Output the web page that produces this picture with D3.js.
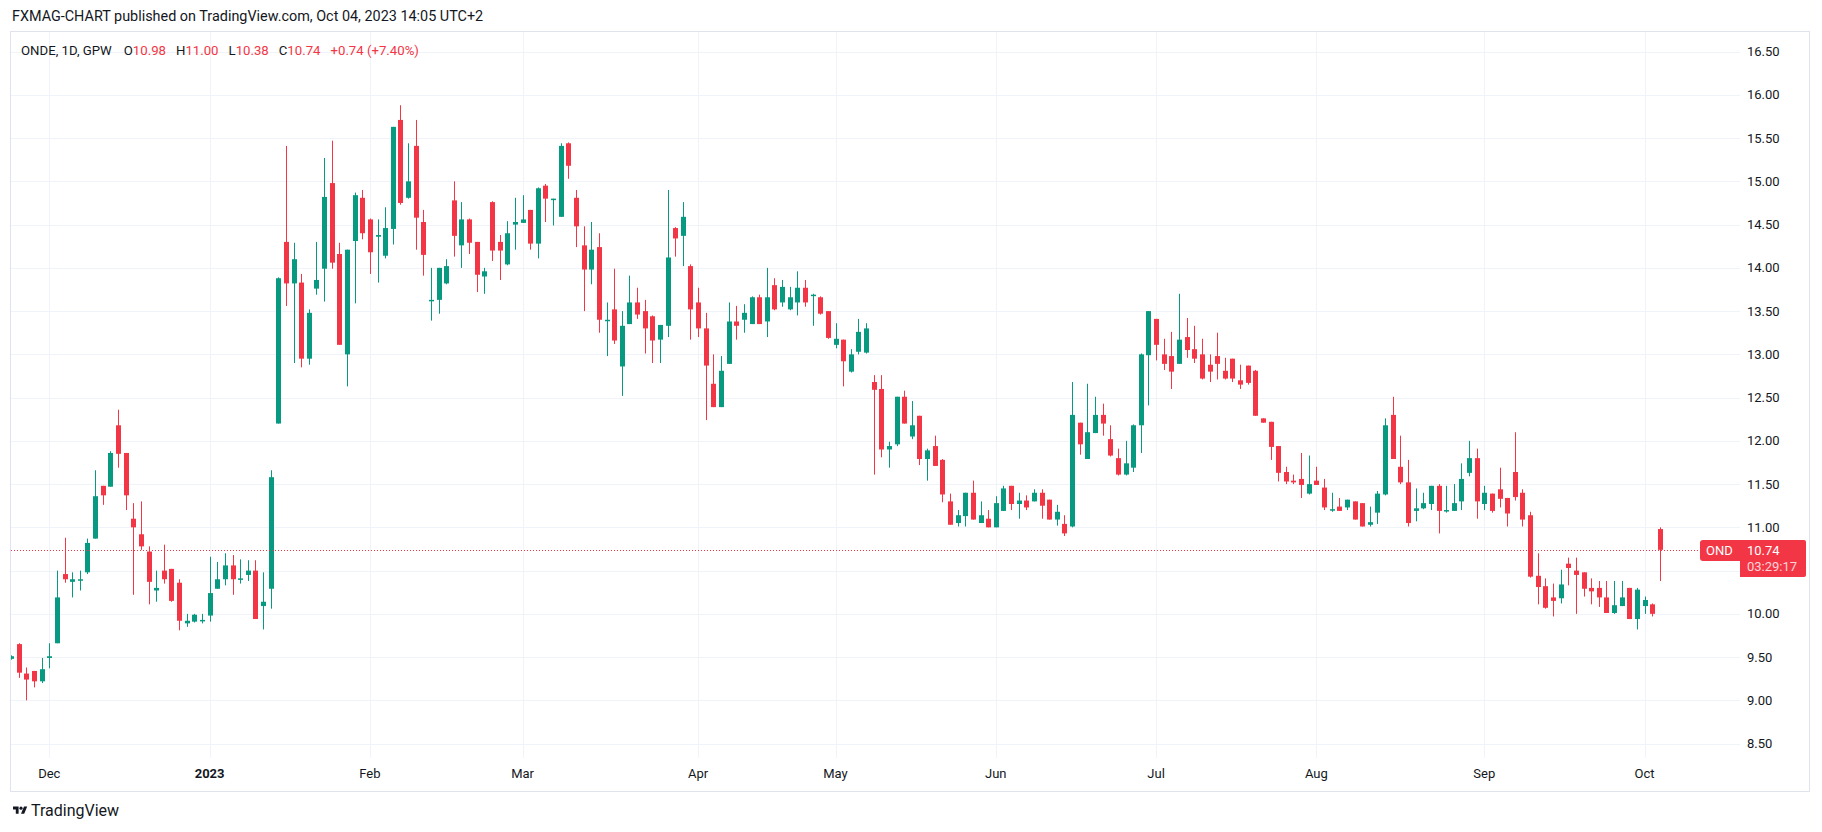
<!DOCTYPE html>
<html><head><meta charset="utf-8">
<script src="https://cdn.jsdelivr.net/npm/d3@7"></script>
<style>
html,body{margin:0;padding:0;background:#fff;}
svg{display:block;font-family:Roboto,"Noto Sans",sans-serif;}
</style></head>
<body><svg id="c" width="1822" height="832"></svg>
<script>
// ---------- DATA ----------
const dates = [
"2022-11-24","2022-11-25","2022-11-28","2022-11-29","2022-11-30",
"2022-12-01","2022-12-02","2022-12-05","2022-12-06","2022-12-07","2022-12-08","2022-12-09","2022-12-12","2022-12-13","2022-12-14","2022-12-15","2022-12-16","2022-12-19","2022-12-20","2022-12-21","2022-12-22","2022-12-23","2022-12-27","2022-12-28","2022-12-29","2022-12-30",
"2023-01-02","2023-01-03","2023-01-04","2023-01-05","2023-01-09","2023-01-10","2023-01-11","2023-01-12","2023-01-13","2023-01-16","2023-01-17","2023-01-18","2023-01-19","2023-01-20","2023-01-23","2023-01-24","2023-01-25","2023-01-26","2023-01-27","2023-01-30","2023-01-31",
"2023-02-01","2023-02-02","2023-02-03","2023-02-06","2023-02-07","2023-02-08","2023-02-09","2023-02-10","2023-02-13","2023-02-14","2023-02-15","2023-02-16","2023-02-17","2023-02-20","2023-02-21","2023-02-22","2023-02-23","2023-02-24","2023-02-27","2023-02-28",
"2023-03-01","2023-03-02","2023-03-03","2023-03-06","2023-03-07","2023-03-08","2023-03-09","2023-03-10","2023-03-13","2023-03-14","2023-03-15","2023-03-16","2023-03-17","2023-03-20","2023-03-21","2023-03-22","2023-03-23","2023-03-24","2023-03-27","2023-03-28","2023-03-29","2023-03-30","2023-03-31",
"2023-04-03","2023-04-04","2023-04-05","2023-04-06","2023-04-11","2023-04-12","2023-04-13","2023-04-14","2023-04-17","2023-04-18","2023-04-19","2023-04-20","2023-04-21","2023-04-24","2023-04-25","2023-04-26","2023-04-27","2023-04-28",
"2023-05-02","2023-05-04","2023-05-05","2023-05-08","2023-05-09","2023-05-10","2023-05-11","2023-05-12","2023-05-15","2023-05-16","2023-05-17","2023-05-18","2023-05-19","2023-05-22","2023-05-23","2023-05-24","2023-05-25","2023-05-26","2023-05-29","2023-05-30","2023-05-31",
"2023-06-01","2023-06-02","2023-06-05","2023-06-06","2023-06-07","2023-06-09","2023-06-12","2023-06-13","2023-06-14","2023-06-15","2023-06-16","2023-06-19","2023-06-20","2023-06-21","2023-06-22","2023-06-23","2023-06-26","2023-06-27","2023-06-28","2023-06-29","2023-06-30",
"2023-07-03","2023-07-04","2023-07-05","2023-07-06","2023-07-07","2023-07-10","2023-07-11","2023-07-12","2023-07-13","2023-07-14","2023-07-17","2023-07-18","2023-07-19","2023-07-20","2023-07-21","2023-07-24","2023-07-25","2023-07-26","2023-07-27","2023-07-28","2023-07-31",
"2023-08-01","2023-08-02","2023-08-03","2023-08-04","2023-08-07","2023-08-08","2023-08-09","2023-08-10","2023-08-11","2023-08-14","2023-08-16","2023-08-17","2023-08-18","2023-08-21","2023-08-22","2023-08-23","2023-08-24","2023-08-25","2023-08-28","2023-08-29","2023-08-30","2023-08-31",
"2023-09-01","2023-09-04","2023-09-05","2023-09-06","2023-09-07","2023-09-08","2023-09-11","2023-09-12","2023-09-13","2023-09-14","2023-09-15","2023-09-18","2023-09-19","2023-09-20","2023-09-21","2023-09-22","2023-09-25","2023-09-26","2023-09-27","2023-09-28","2023-09-29",
"2023-10-02","2023-10-03","2023-10-04"
];
const open = [
9.48,9.65,9.31,9.34,9.22,
9.49,9.66,10.46,10.37,10.39,10.48,10.87,11.48,11.47,12.18,11.86,11.10,10.92,10.72,10.27,10.50,10.52,10.36,9.89,9.91,9.92,
9.98,10.29,10.40,10.56,10.40,10.45,10.50,10.09,10.29,12.20,14.30,13.82,13.83,12.95,13.76,13.99,14.98,14.16,13.00,14.31,14.81,
14.56,14.36,14.14,14.45,15.71,14.81,15.41,14.53,13.62,13.63,13.82,14.78,14.26,14.56,14.30,13.90,14.76,14.30,14.04,14.50,
14.52,14.67,14.28,14.95,14.79,14.59,15.44,14.81,14.26,13.98,14.24,13.39,13.52,12.86,13.35,13.60,13.50,13.44,13.17,13.33,14.46,14.37,14.02,
13.60,13.30,12.66,12.39,12.89,13.38,13.40,13.35,13.66,13.38,13.80,13.60,13.52,13.60,13.77,13.68,13.66,13.50,
13.11,13.17,12.80,13.03,13.02,12.68,12.60,11.90,11.96,12.51,12.05,12.29,11.79,11.94,11.78,11.30,11.05,11.13,11.40,11.05,11.10,
11.00,11.19,11.48,11.27,11.31,11.30,11.40,11.32,11.09,11.04,11.01,12.21,11.79,12.09,12.30,12.02,11.80,11.61,11.69,12.18,12.99,
13.41,13.00,12.98,12.89,13.20,13.06,13.00,12.88,12.98,12.81,12.95,12.70,12.87,12.81,12.26,12.22,11.94,11.64,11.54,11.56,11.39,
11.54,11.46,11.20,11.24,11.23,11.30,11.28,11.03,11.17,11.38,12.30,11.70,11.52,11.19,11.22,11.27,11.48,11.19,11.19,11.30,11.63,11.80,
11.27,11.39,11.44,11.34,11.64,11.40,11.14,10.44,10.32,10.19,10.18,10.58,10.50,10.48,10.30,10.30,10.19,10.01,10.09,10.30,9.94,
10.09,10.11,10.98
];
const high = [
9.52,9.66,9.38,9.34,9.49,
9.66,10.50,10.88,10.48,10.50,10.87,11.66,11.48,11.88,12.36,11.86,11.28,11.30,10.78,10.50,10.80,10.52,10.40,10.00,10.00,10.00,
10.66,10.60,10.70,10.68,10.63,10.62,10.62,10.48,11.66,13.89,15.41,14.29,13.93,13.52,14.30,15.27,15.47,14.29,14.21,14.87,14.90,
14.57,14.56,14.70,15.63,15.88,15.44,15.71,14.67,14.00,14.00,14.10,15.00,14.76,14.57,14.30,14.00,14.77,14.38,14.54,14.81,
14.84,14.67,14.93,14.97,14.80,15.44,15.45,14.90,14.48,14.53,14.40,13.60,13.99,13.50,13.91,13.77,13.63,13.45,13.34,14.90,14.47,14.76,14.04,
13.77,13.48,13.00,12.98,13.60,13.56,13.58,13.67,13.69,14.00,13.88,13.86,13.78,13.96,13.86,13.70,13.67,13.50,
13.36,13.17,13.06,13.41,13.36,12.76,12.76,11.99,12.51,12.58,12.46,12.29,11.91,12.06,11.79,11.39,11.20,11.40,11.54,11.30,11.20,
11.36,11.48,11.48,11.40,11.37,11.44,11.44,11.32,11.26,11.14,12.68,12.21,12.66,12.51,12.43,12.18,11.91,12.00,12.19,13.01,13.50,
13.41,13.18,13.26,13.70,13.42,13.33,13.18,13.00,13.25,12.96,12.95,12.88,12.87,12.82,12.26,12.22,11.94,11.70,11.61,11.86,11.83,
11.70,11.56,11.40,11.34,11.32,11.30,11.28,11.24,11.42,12.26,12.51,12.06,11.78,11.45,11.40,11.48,11.50,11.48,11.50,11.74,12.00,11.91,
11.48,11.39,11.69,11.34,12.10,11.44,11.18,10.70,10.41,10.35,10.51,10.65,10.65,10.48,10.41,10.38,10.38,10.38,10.38,10.30,10.30,
10.20,10.12,11.00
];
const low = [
9.47,9.26,9.00,9.15,9.20,
9.37,9.66,10.36,10.19,10.27,10.46,10.87,11.26,11.47,11.69,11.20,10.22,10.74,10.11,10.14,10.35,10.14,9.81,9.85,9.90,9.89,
9.91,10.29,10.33,10.22,10.35,10.38,9.94,9.82,10.06,12.20,13.56,12.90,12.85,12.88,13.69,13.61,13.99,13.11,12.63,13.59,14.33,
13.93,13.83,14.11,14.27,14.73,14.80,14.21,13.91,13.39,13.47,13.81,14.13,14.00,14.16,13.72,13.70,14.08,13.86,14.03,14.21,
14.52,14.21,14.11,14.53,14.49,14.59,15.03,14.24,13.50,13.81,13.25,12.98,13.12,12.52,13.35,13.41,13.01,12.90,12.90,13.20,14.13,14.02,13.17,
13.20,12.24,12.39,12.39,12.89,13.17,13.25,13.35,13.35,13.20,13.51,13.55,13.51,13.45,13.55,13.33,13.46,13.18,
13.07,12.63,12.79,13.00,13.01,11.61,11.81,11.69,11.94,12.20,12.02,11.72,11.54,11.71,11.29,11.03,11.01,11.01,11.09,11.05,11.00,
11.00,11.19,11.20,11.10,11.20,11.30,11.10,11.09,11.02,10.90,11.00,11.84,11.79,12.09,12.06,11.82,11.60,11.60,11.64,11.86,12.41,
12.93,12.82,12.60,12.89,12.96,12.90,12.71,12.68,12.71,12.71,12.68,12.60,12.65,12.29,12.21,11.78,11.53,11.50,11.50,11.34,11.38,
11.49,11.20,11.18,11.19,11.20,11.09,11.01,11.01,11.04,11.37,11.79,11.50,11.01,11.07,11.21,11.20,10.93,11.17,11.19,11.20,11.59,11.10,
11.20,11.17,11.23,11.01,11.31,11.01,10.42,10.11,10.06,9.97,10.12,10.33,10.00,10.20,10.11,10.08,10.01,10.00,10.09,9.94,9.82,
10.00,9.97,10.38
];
const close = [
9.51,9.32,9.24,9.22,9.36,
9.51,10.19,10.40,10.40,10.40,10.82,11.36,11.37,11.86,11.85,11.37,11.00,10.78,10.37,10.30,10.40,10.15,9.92,9.92,9.99,9.93,
10.24,10.40,10.56,10.40,10.41,10.50,9.94,10.14,11.58,13.88,13.82,14.10,12.95,13.48,13.86,14.82,14.06,13.11,14.21,14.84,14.40,
14.18,14.38,14.46,15.63,14.75,15.00,14.58,14.15,13.63,14.00,14.02,14.37,14.56,14.29,13.92,13.96,14.20,14.20,14.40,14.53,
14.56,14.28,14.92,14.80,14.80,15.41,15.18,14.48,13.98,14.21,13.40,13.40,13.16,13.33,13.60,13.46,13.30,13.16,13.34,14.12,14.34,14.59,13.52,
13.30,12.87,12.39,12.81,13.38,13.33,13.48,13.66,13.35,13.66,13.52,13.78,13.66,13.77,13.60,13.69,13.47,13.19,
13.18,12.92,13.00,13.26,13.30,12.59,11.90,11.94,12.51,12.20,12.18,11.79,11.89,11.71,11.38,11.03,11.14,11.40,11.09,11.14,11.00,
11.28,11.45,11.27,11.31,11.23,11.40,11.25,11.09,11.18,10.93,12.30,11.96,12.10,12.30,12.20,11.83,11.61,11.74,12.18,13.00,13.50,
13.11,12.89,12.80,13.17,13.05,12.95,12.72,12.80,12.89,12.72,12.72,12.65,12.67,12.29,12.21,11.93,11.63,11.53,11.52,11.49,11.50,
11.49,11.23,11.21,11.19,11.32,11.09,11.01,11.06,11.39,12.18,11.79,11.52,11.05,11.22,11.28,11.48,11.19,11.20,11.28,11.56,11.80,11.30,
11.40,11.19,11.33,11.16,11.35,11.09,10.43,10.31,10.07,10.15,10.34,10.53,10.45,10.29,10.26,10.19,10.01,10.10,10.19,9.94,10.28,
10.16,10.00,10.74
];
const priceTicks = [8.5,9,9.5,10,10.5,11,11.5,12,12.5,13,13.5,14,14.5,15,15.5,16,16.5];
const headerText = "FXMAG-CHART published on TradingView.com, Oct 04, 2023 14:05 UTC+2";
const symbolName = "ONDE", intervalName = "1D", exchangeName = "GPW";
const shortName = "OND";
const countdown = "03:29:17";

// ---------- STYLE / LAYOUT ----------
const W = 1822, H = 832;
const UP = "#089981", DOWN = "#f23645", TXT = "#131722";
const frame = {l: 10.5, t: 31.5, r: 1809.5, b: 791.5};
const pane = {l: 11, r: 1740, t: 32, b: 758};
const svg = d3.select("#c");

const n = Math.min(dates.length, open.length, high.length, low.length, close.length);
const parse = d3.timeParse("%Y-%m-%d");
const bars = d3.range(n).map(i => ({i, date: parse(dates[i]), o: open[i], h: high[i], l: low[i], c: close[i]}));

const x = d3.scaleLinear().domain([-0.02, n - 1 + 10.5]).range([pane.l, pane.r]);
const y = d3.scaleLinear().domain([8.5, 16.5]).range([743.6, 51.6]);

svg.append("rect").attr("width", W).attr("height", H).attr("fill", "#fff");

// header
svg.append("text").attr("x", 12).attr("y", 21).attr("font-size", 14.4).attr("fill", TXT).text(headerText);

// clip
svg.append("clipPath").attr("id", "pc").append("rect")
  .attr("x", pane.l).attr("y", pane.t).attr("width", pane.r - pane.l).attr("height", pane.b - pane.t);

// month ticks
const monthTicks = bars.filter((b, k) => k > 0 && b.date.getMonth() !== bars[k - 1].date.getMonth());
const g = svg.append("g");
g.selectAll("line.h").data(priceTicks).join("line")
  .attr("x1", pane.l).attr("x2", pane.r)
  .attr("y1", d => Math.round(y(d)) + 0.5).attr("y2", d => Math.round(y(d)) + 0.5)
  .attr("stroke", "#f0f3fa").attr("stroke-width", 1);
g.selectAll("line.v").data(monthTicks).join("line")
  .attr("x1", d => Math.round(x(d.i)) + 0.5).attr("x2", d => Math.round(x(d.i)) + 0.5)
  .attr("y1", pane.t).attr("y2", pane.b)
  .attr("stroke", "#f0f3fa").attr("stroke-width", 1);

// candles
const cg = svg.append("g").attr("clip-path", "url(#pc)");
const bw = 5;
const cs = cg.selectAll("g.c").data(bars).join("g");
cs.append("rect")
  .attr("x", d => Math.round(x(d.i)))
  .attr("width", 1)
  .attr("y", d => y(Math.max(d.h, d.o, d.c)))
  .attr("height", d => Math.max(1, y(Math.min(d.l, d.o, d.c)) - y(Math.max(d.h, d.o, d.c))))
  .attr("fill", d => d.c >= d.o ? UP : DOWN);
cs.append("rect")
  .attr("x", d => Math.round(x(d.i)) - 2)
  .attr("width", bw)
  .attr("y", d => y(Math.max(d.o, d.c)))
  .attr("height", d => Math.max(1.5, Math.abs(y(d.o) - y(d.c))))
  .attr("fill", d => d.c >= d.o ? UP : DOWN);

// last price line
const last = bars[n - 1], prev = bars[n - 2];
const ly = y(last.c);
svg.append("line").attr("x1", pane.l).attr("x2", 1700).attr("y1", Math.round(ly) + 0.5).attr("y2", Math.round(ly) + 0.5)
  .attr("stroke", DOWN).attr("stroke-width", 1).attr("stroke-dasharray", "1,2");

// price axis labels
const boxTop = Math.round(ly) - 10, boxBot = Math.round(ly) + 27;
svg.append("g").selectAll("text").data(priceTicks.filter(p => y(p) + 7 < boxTop || y(p) - 7 > boxBot)).join("text")
  .attr("x", 1747).attr("y", d => y(d)).attr("dy", "0.35em")
  .attr("font-size", 13).attr("fill", TXT).text(d => d.toFixed(2));

// last price labels
const lastColor = last.c >= last.o ? UP : DOWN;
svg.append("path").attr("fill", lastColor)
  .attr("d", `M1703,${boxTop} H1742 V${boxTop + 21} H1703 Q1700,${boxTop + 21} 1700,${boxTop + 18} V${boxTop + 3} Q1700,${boxTop} 1703,${boxTop} Z`);
svg.append("path").attr("fill", lastColor)
  .attr("d", `M1740,${boxTop} H1804 Q1806,${boxTop} 1806,${boxTop + 2} V${boxBot - 2} Q1806,${boxBot} 1804,${boxBot} H1740 Z`);
svg.append("text").attr("x", 1706).attr("y", boxTop + 10.5).attr("dy", "0.35em").attr("font-size", 13)
  .attr("fill", "#fff").text(shortName);
svg.append("text").attr("x", 1747).attr("y", boxTop + 10.5).attr("dy", "0.35em").attr("font-size", 13)
  .attr("fill", "#fff").text(last.c.toFixed(2));
svg.append("text").attr("x", 1747).attr("y", boxTop + 26).attr("dy", "0.35em").attr("font-size", 13)
  .attr("fill", "#fff").attr("fill-opacity", 0.8).text(countdown);

// time axis labels
const fmt = d => d.getMonth() === 0 ? d3.timeFormat("%Y")(d) : d3.timeFormat("%b")(d);
svg.append("g").selectAll("text").data(monthTicks).join("text")
  .attr("x", d => x(d.i)).attr("y", 773).attr("dy", "0.35em").attr("text-anchor", "middle")
  .attr("font-size", 13).attr("fill", TXT)
  .attr("font-weight", d => d.date.getMonth() === 0 ? "bold" : "normal")
  .text(d => fmt(d.date));

// frame
svg.append("rect").attr("x", frame.l).attr("y", frame.t).attr("width", frame.r - frame.l).attr("height", frame.b - frame.t)
  .attr("fill", "none").attr("stroke", "#e0e3eb").attr("stroke-width", 1);

// legend
const chg = last.c - prev.c, pct = chg / prev.c * 100;
const sgn = v => (v >= 0 ? "+" : "") + v.toFixed(2);
const leg = svg.append("text").attr("x", 21).attr("y", 55).attr("font-size", 13.2).attr("fill", TXT);
leg.append("tspan").text(`${symbolName}, ${intervalName}, ${exchangeName}`);
[["O", last.o], ["H", last.h], ["L", last.l], ["C", last.c]].forEach(([k, v], j) => {
  leg.append("tspan").attr("dx", j === 0 ? 12 : 10).text(k);
  leg.append("tspan").attr("fill", lastColor).text(v.toFixed(2));
});
leg.append("tspan").attr("dx", 10).attr("fill", lastColor).text(`${sgn(chg)} (${sgn(pct)}%)`);

// footer logo
const lg = svg.append("g").attr("transform", "translate(13,805) scale(0.4)").attr("fill", TXT);
lg.append("path").attr("d", "M14 22H7V11H0V4h14v18zM28 22h-8l7.5-18h8L28 22z");
lg.append("circle").attr("cx", 20).attr("cy", 8).attr("r", 4);
svg.append("text").attr("x", 31).attr("y", 816).attr("font-size", 16).attr("fill", TXT).text("TradingView");
</script>
</body></html>
